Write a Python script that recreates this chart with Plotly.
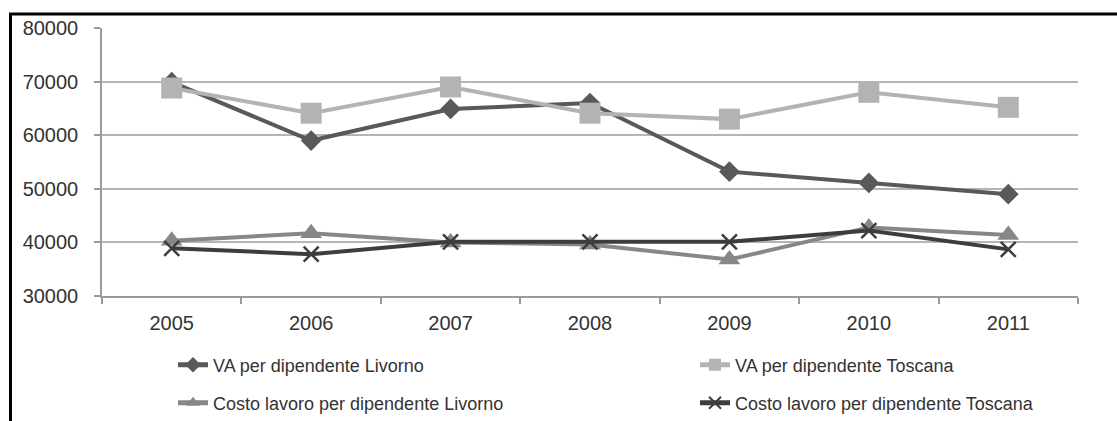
import plotly.graph_objects as go

years = ["2005", "2006", "2007", "2008", "2009", "2010", "2011"]
va_livorno = [69900, 59000, 64900, 66000, 53200, 51100, 49000]
va_toscana = [68800, 64100, 69000, 64100, 63000, 68000, 65200]
costo_livorno = [40300, 41700, 40000, 39600, 36800, 42800, 41400]
costo_toscana = [38900, 37800, 40100, 40100, 40100, 42200, 38700]

names = ["VA per dipendente Livorno", "VA per dipendente Toscana",
         "Costo lavoro per dipendente Livorno", "Costo lavoro per dipendente Toscana"]
colors = ["#595959", "#b3b3b3", "#878787", "#3d3d3d"]

W, H = 1117, 421
L, R, T, B = 102, 39, 28, 125
PW, PH = W - L - R, H - T - B

def px(x):
    return (x - L) / PW

def py(y):
    return (H - B - y) / PH

fig = go.Figure()
series = [va_livorno, va_toscana, costo_livorno, costo_toscana]
symbols = ["diamond", "square", "triangle-up", "x-thin"]
sizes = [16, 21, 19, 15]
legends = ["legend", "legend2", "legend3", "legend4"]
for i, s in enumerate(series):
    marker = dict(symbol=symbols[i], size=sizes[i], color=colors[i])
    if symbols[i] == "x-thin":
        marker["line"] = dict(color=colors[i], width=2.5)
    else:
        marker["line"] = dict(width=0)
    fig.add_trace(go.Scatter(
        x=years, y=s, name=names[i], mode="lines+markers",
        line=dict(color=colors[i], width=4),
        marker=marker, legend=legends[i],
    ))

legend_font = dict(family="Liberation Sans, Arial", size=18, color="#333333")
leg_common = dict(font=legend_font, xanchor="left", yanchor="middle", bgcolor="rgba(0,0,0,0)",
                  borderwidth=0, itemsizing="constant", itemwidth=30)

fig.update_layout(
    width=W, height=H,
    margin=dict(l=L, r=R, t=T, b=B, pad=0, autoexpand=False),
    paper_bgcolor="white", plot_bgcolor="white",
    showlegend=True,
    legend=dict(x=px(173), y=py(365), **leg_common),
    legend2=dict(x=px(695), y=py(365), **leg_common),
    legend3=dict(x=px(173), y=py(403), **leg_common),
    legend4=dict(x=px(695), y=py(403), **leg_common),
    xaxis=dict(
        type="category", range=[-0.5, 6.5], tickson="boundaries",
        showgrid=False, showline=True, linecolor="#9a9a9a", linewidth=1.5,
        ticks="outside", ticklen=6, tickcolor="#9a9a9a", tickwidth=1.5,
        tickfont=dict(family="Liberation Sans, Arial", size=20, color="#333333"),
        ticklabelstandoff=8, zeroline=False,
    ),
    yaxis=dict(
        range=[30000, 80000], dtick=10000, tick0=30000,
        showgrid=True, gridcolor="#b5b5b5", gridwidth=1.5,
        showline=True, linecolor="#9a9a9a", linewidth=1.5,
        ticks="outside", ticklen=6, tickcolor="#9a9a9a", tickwidth=1.5,
        tickfont=dict(family="Liberation Sans, Arial", size=20, color="#333333"),
        ticklabelstandoff=12, zeroline=False,
        tickformat="d",
    ),
    shapes=[
        dict(type="line", xref="paper", yref="paper", x0=px(9), x1=px(W + 5), y0=py(14), y1=py(14),
             line=dict(color="black", width=3), layer="above"),
        dict(type="line", xref="paper", yref="paper", x0=px(10.5), x1=px(10.5), y0=py(13), y1=py(H + 5),
             line=dict(color="black", width=3), layer="above"),
    ],
)

fig.write_html("out.html")
